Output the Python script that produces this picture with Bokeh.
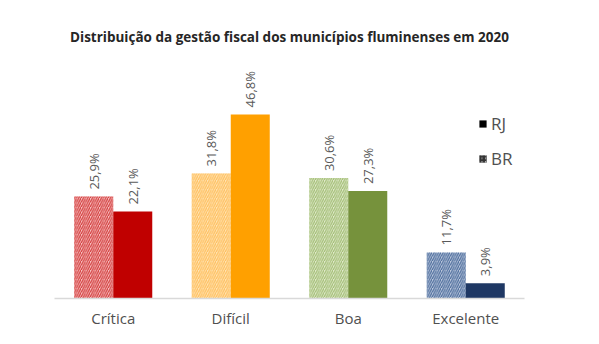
from bokeh.plotting import figure
from bokeh.models import ColumnDataSource, FactorRange, Range1d, Legend, LegendItem, Title
from bokeh.transform import dodge
from bokeh.embed import file_html
from bokeh.resources import INLINE
from bokeh.core.properties import value
import math

categories = ["Crítica", "Difícil", "Boa", "Excelente"]
br_values = [25.9, 31.8, 30.6, 11.7]
rj_values = [22.1, 46.8, 27.3, 3.9]
rj_colors = ["#C00000", "#FFA000", "#76923C", "#1F3864"]
br_stripe_colors = ["#D23C3C", "#FFBF5E", "#A2BD74", "#4C6C9C"]
br_back_colors = ["#F7C0C0", "#FFE4B4", "#E0EACC", "#BCC9DD"]

def fmt(v):
    return f"{v:.1f}".replace(".", ",") + "%"

FONT = "Open Sans"

src = ColumnDataSource(dict(
    cat=categories, br=br_values, rj=rj_values,
    rjc=rj_colors, brs=br_stripe_colors, brb=br_back_colors,
    brl=[fmt(v) for v in br_values], rjl=[fmt(v) for v in rj_values],
))

p = figure(width=599, height=344, x_range=FactorRange(*categories),
           y_range=Range1d(0, 60.5), output_backend="svg", toolbar_location=None,
           min_border_left=54, min_border_right=75, min_border_bottom=46, min_border_top=60)

p.title = Title(text="Distribuição da gestão fiscal dos municípios fluminenses em 2020",
                align="center", text_font=FONT, text_font_size="13.5px",
                text_font_style="bold", text_color="#262626", standoff=29)

W = 0.332
p.vbar(x=dodge("cat", -0.166, range=p.x_range), top="br", width=W, source=src,
       fill_color="brb", line_color=None, hatch_pattern="/", hatch_color="brs",
       hatch_weight=1.2, hatch_scale=4.5, hatch_alpha=1.0)
p.vbar(x=dodge("cat", 0.166, range=p.x_range), top="rj", width=W, source=src,
       fill_color="rjc", line_color=None)

p.text(x=dodge("cat", -0.166, range=p.x_range), y="br", text="brl", source=src,
       angle=math.pi / 2, text_align="left", text_baseline="middle", y_offset=-7,
       text_font=value(FONT), text_font_size="13px", text_color="#595959")
p.text(x=dodge("cat", 0.166, range=p.x_range), y="rj", text="rjl", source=src,
       angle=math.pi / 2, text_align="left", text_baseline="middle", y_offset=-7,
       text_font=value(FONT), text_font_size="13px", text_color="#595959")

r_rj = p.vbar(x=[categories[0]], bottom=[0], top=[0], width=0, fill_color="black", line_color=None)
r_br = p.vbar(x=[categories[0]], bottom=[0], top=[0], width=0, fill_color="#BBBBBB", line_color=None,
              hatch_pattern="/", hatch_color="#333333", hatch_weight=1.6, hatch_scale=3.5)

legend = Legend(items=[LegendItem(label="RJ", renderers=[r_rj]),
                       LegendItem(label="BR", renderers=[r_br])],
                location=(424, 128), orientation="vertical",
                glyph_width=9, glyph_height=9, label_standoff=4, spacing=12,
                padding=0, margin=0, border_line_color=None, background_fill_alpha=0,
                label_text_font=FONT, label_text_font_size="17px", label_text_color="#505050",
                label_height=16)
p.add_layout(legend)

p.xgrid.grid_line_color = None
p.ygrid.grid_line_color = None
p.yaxis.visible = False
p.outline_line_color = None
p.xaxis.axis_line_color = "#D9D9D9"
p.xaxis.axis_line_width = 1.5
p.xaxis.major_tick_line_color = None
p.xaxis.minor_tick_line_color = None
p.xaxis.major_label_standoff = 3
p.xaxis.major_label_text_font = FONT
p.xaxis.major_label_text_font_size = "15px"
p.xaxis.major_label_text_color = "#505050"

open("out.html", "w").write(file_html(p, INLINE))
